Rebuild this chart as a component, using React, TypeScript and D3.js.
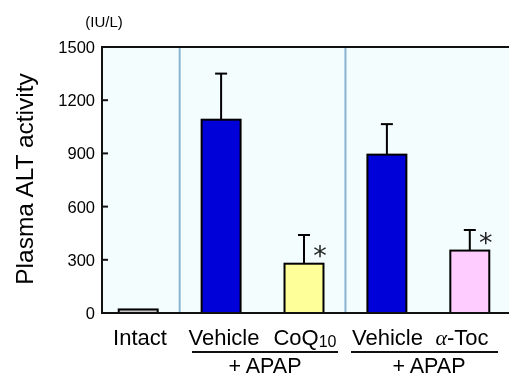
import React, { useEffect } from 'react';
import * as d3 from 'd3';

const groups = ['Intact', 'Vehicle1', 'CoQ10', 'Vehicle2', 'aToc'];
const means = [20, 1090, 278, 893, 352];
const errors = [0, 260, 162, 172, 116];
const starred = [false, false, true, false, true];
const fills = ['#c8c8c8', '#0000d8', '#ffff99', '#0000d8', '#ffccff'];
const yTicks = [0, 300, 600, 900, 1200, 1500];

const W = 509;
const H = 376;
const left = 102;
const right = 512;
const top = 47;
const bottom = 313;
const font = 'Liberation Sans, Arial, sans-serif';

export default function App() {
  useEffect(() => {
    document.body.style.margin = '0';
    document.body.style.overflow = 'hidden';
  }, []);

  const x = d3.scaleBand().domain(groups).range([98, 510]).paddingInner(0.53).paddingOuter(0.25);
  const y = d3.scaleLinear().domain([0, 1500]).range([bottom, top]);
  const bw = x.bandwidth();
  const cx = (g: string) => (x(g) as number) + bw / 2;
  // dividers halfway between groups
  const div1 = (cx('Intact') + cx('Vehicle1')) / 2;
  const div2 = (cx('CoQ10') + cx('Vehicle2')) / 2;

  return (
    <svg width={W} height={H} style={{ display: 'block', fontFamily: font, position: 'fixed', left: 0, top: 0 }}>
      <rect x={left} y={top} width={right - left} height={bottom - top} fill="#f4fdfe" />
      {[div1, div2].map((d, i) => (
        <line key={i} x1={d} x2={d} y1={top} y2={bottom} stroke="#8ab4d2" strokeWidth={2} />
      ))}
      {groups.map((g, i) => {
        const x0 = x(g) as number;
        const yt = y(means[i]);
        const ye = y(means[i] + errors[i]);
        return (
          <g key={g}>
            {errors[i] > 0 && (
              <g stroke="#000" strokeWidth={2}>
                <line x1={cx(g)} x2={cx(g)} y1={yt} y2={ye} />
                <line x1={cx(g) - 6} x2={cx(g) + 6} y1={ye} y2={ye} />
              </g>
            )}
            <rect x={x0} y={yt} width={bw} height={bottom - yt} fill={fills[i]} stroke="#000" strokeWidth={2} />
            {starred[i] && (
              <text x={cx(g) + 16} y={yt + 1} textAnchor="middle" fontSize={27}
                fontFamily="DejaVu Sans, sans-serif" fill="#222">*</text>
            )}
          </g>
        );
      })}
      <line x1={left} x2={right} y1={top} y2={top} stroke="#111" strokeWidth={2} />
      <line x1={left} x2={right} y1={bottom} y2={bottom} stroke="#111" strokeWidth={2} />
      <line x1={left} x2={left} y1={top - 1} y2={bottom + 1} stroke="#111" strokeWidth={2} />
      {yTicks.map((t) => (
        <g key={t}>
          <line x1={left} x2={left + 6} y1={y(t)} y2={y(t)} stroke="#111" strokeWidth={2} />
          <text x={95} y={y(t)} dy="0.36em" textAnchor="end" fontSize={16.5}>{t}</text>
        </g>
      ))}
      <text x={104} y={27} textAnchor="middle" fontSize={15}>(IU/L)</text>
      <text transform="translate(33,179) rotate(-90)" textAnchor="middle" fontSize={24.5}>Plasma ALT activity</text>
      <text x={140} y={345} textAnchor="middle" fontSize={22}>Intact</text>
      <text x={224} y={345} textAnchor="middle" fontSize={22}>Vehicle</text>
      <text x={305} y={345} textAnchor="middle" fontSize={22}>
        CoQ<tspan fontSize={16} dy={2}>10</tspan>
      </text>
      <text x={387.5} y={345} textAnchor="middle" fontSize={22}>Vehicle</text>
      <text x={462} y={345} textAnchor="middle" fontSize={22}>
        <tspan fontFamily="Liberation Serif, serif" fontStyle="italic">α</tspan>-Toc
      </text>
      <line x1={192} x2={338} y1={352} y2={352} stroke="#111" strokeWidth={2} />
      <line x1={351} x2={498} y1={352} y2={352} stroke="#111" strokeWidth={2} />
      <text x={265} y={373} textAnchor="middle" fontSize={21.5}>+ APAP</text>
      <text x={429} y={373} textAnchor="middle" fontSize={21.5}>+ APAP</text>
    </svg>
  );
}
